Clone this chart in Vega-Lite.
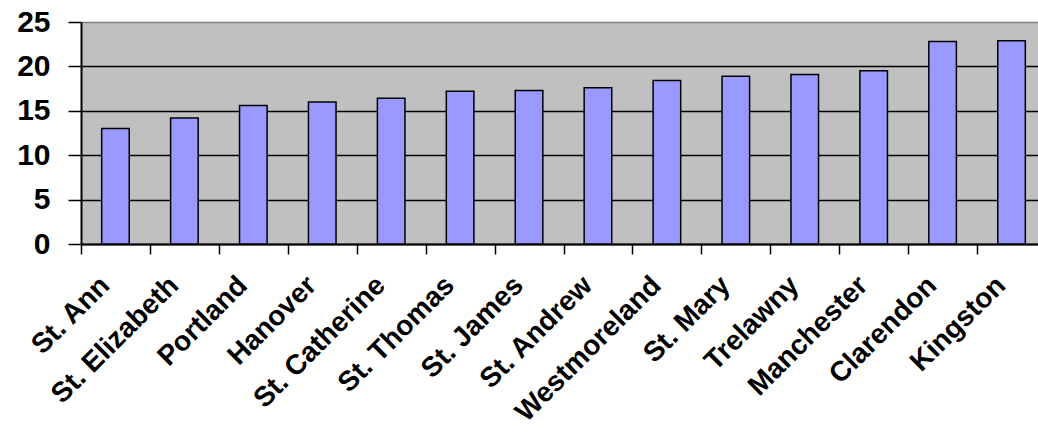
{
  "$schema": "https://vega.github.io/schema/vega-lite/v6.json",
  "width": 957,
  "height": 222,
  "autosize": {"type": "none"},
  "padding": {"left": 81, "top": 22, "right": 0, "bottom": 191},
  "background": "white",
  "config": {
    "view": {"stroke": null, "fill": "#C0C0C0"},
    "font": "Liberation Sans"
  },
  "data": {
    "values": [
      {"parish": "St. Ann", "value": 13.0},
      {"parish": "St. Elizabeth", "value": 14.2},
      {"parish": "Portland", "value": 15.6},
      {"parish": "Hanover", "value": 16.0},
      {"parish": "St. Catherine", "value": 16.4},
      {"parish": "St. Thomas", "value": 17.2},
      {"parish": "St. James", "value": 17.3},
      {"parish": "St. Andrew", "value": 17.6},
      {"parish": "Westmoreland", "value": 18.4},
      {"parish": "St. Mary", "value": 18.9},
      {"parish": "Trelawny", "value": 19.1},
      {"parish": "Manchester", "value": 19.5},
      {"parish": "Clarendon", "value": 22.8},
      {"parish": "Kingston", "value": 22.9}
    ]
  },
  "mark": {"type": "bar", "fill": "#9999FF", "stroke": "black", "strokeWidth": 1.5},
  "encoding": {
    "x": {
      "field": "parish",
      "type": "nominal",
      "sort": null,
      "scale": {"range": [0, 965], "paddingInner": 0.6, "paddingOuter": 0.3},
      "axis": {
        "title": null,
        "tickOffset": -34.45,
        "labelOffset": 14,
        "labelAngle": -45,
        "labelAlign": "right",
        "labelBaseline": "top",
        "labelPadding": 17,
        "labelFont": "Liberation Sans",
        "labelFontSize": 28,
        "labelFontWeight": "bold",
        "labelColor": "black",
        "labelLimit": 0,
        "tickColor": "black",
        "tickSize": 10,
        "tickWidth": 1.5,
        "domainColor": "black",
        "domainWidth": 2,
        "grid": false,
        "labelOverlap": false,
        "labelBound": false
      }
    },
    "y": {
      "field": "value",
      "type": "quantitative",
      "scale": {"domain": [0, 25], "nice": false},
      "axis": {
        "title": null,
        "values": [0, 5, 10, 15, 20, 25],
        "labelFont": "Liberation Sans",
        "labelFontSize": 30,
        "labelFontWeight": "bold",
        "labelColor": "black",
        "labelPadding": 18,
        "tickColor": "black",
        "tickSize": 13,
        "tickWidth": 1.5,
        "domainColor": "black",
        "domainWidth": 2,
        "grid": true,
        "gridColor": {"condition": {"test": "datum.value === 25", "value": "#808080"}, "value": "black"},
        "gridWidth": 1.5,
        "gridOpacity": 1
      }
    }
  }
}
